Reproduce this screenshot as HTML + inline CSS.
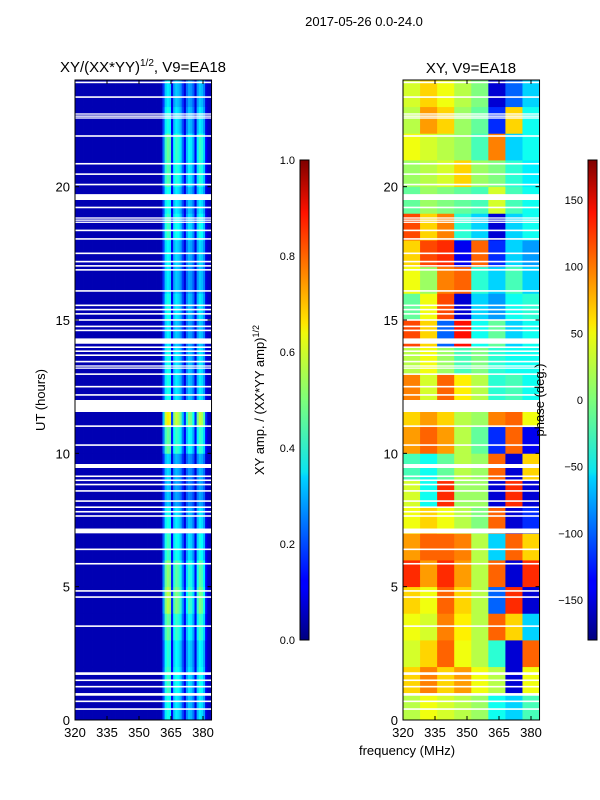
<!DOCTYPE html>
<html><head><meta charset="utf-8"><style>
html,body{margin:0;padding:0;background:#fff;width:600px;height:800px;overflow:hidden}
svg{display:block;font-family:"Liberation Sans",sans-serif}
</style></head><body>
<svg id="fig" width="600" height="800" xmlns="http://www.w3.org/2000/svg">
<defs>
<linearGradient id="jet" x1="0" y1="1" x2="0" y2="0">
<stop offset="0" stop-color="#00007f"/><stop offset="0.11" stop-color="#0000ff"/><stop offset="0.125" stop-color="#0000ff"/>
<stop offset="0.34" stop-color="#00d4ff"/><stop offset="0.35" stop-color="#0ae4f0"/><stop offset="0.5" stop-color="#7dff7a"/>
<stop offset="0.64" stop-color="#f0f90a"/><stop offset="0.66" stop-color="#ffe600"/><stop offset="0.89" stop-color="#ff1200"/>
<stop offset="1" stop-color="#7f0000"/></linearGradient>
</defs>
<text x="364" y="26" font-size="13" text-anchor="middle">2017-05-26 0.0-24.0</text>
<text x="143" y="72" font-size="15" text-anchor="middle">XY/(XX*YY)<tspan font-size="10" dy="-6">1/2</tspan><tspan dy="6">, V9=EA18</tspan></text>
<text x="471" y="73" font-size="15" text-anchor="middle">XY, V9=EA18</text>
<g id="ampPanel"></g>
<g id="phPanel"></g>
<g id="axes"></g>
<text transform="translate(45,400) rotate(-90)" font-size="13" text-anchor="middle">UT (hours)</text>
<text x="407" y="755" font-size="13" text-anchor="middle">frequency (MHz)</text>
<rect x="300" y="160" width="9" height="480" fill="url(#jet)" stroke="#000" stroke-width="1"/>
<rect x="588" y="160" width="9" height="480" fill="url(#jet)" stroke="#000" stroke-width="1"/>
<text transform="translate(264,400) rotate(-90)" font-size="13" text-anchor="middle">XY amp. / (XX*YY amp)<tspan font-size="9" dy="-5">1/2</tspan></text>
<text transform="translate(544,400) rotate(-90)" font-size="13" text-anchor="middle">phase (deg.)</text>
</svg>
<script>
// ---- data ----
const hours = [0,1,2,3,4,5,6,7,8,9,10,11,12,13,14,15,16,17,18,19,20,21,22,23];
// amplitude spectral profile, 1 MHz bins 320..383
const ampFreqProfile = [0.05,0.05,0.05,0.05,0.05,0.05,0.05,0.05,0.05,0.05,0.05,0.05,0.05,0.05,0.05,0.05,
 0.05,0.05,0.05,0.05,0.05,0.05,0.05,0.05,0.05,0.05,0.05,0.05,0.05,0.05,0.05,0.05,
 0.05,0.05,0.05,0.05,0.05,0.05,0.05,0.05,0.06,0.2,0.36,0.4,0.38,0.12,0.32,0.36,0.34,0.3,0.2,0.1,
 0.26,0.32,0.3,0.24,0.1,0.3,0.36,0.34,0.28,0.1,0.07,0.06];
// hourly amplitude gain
const ampHourGain = [1.0,1.1,1.05,1.2,1.4,1.3,1.1,1.0,0.8,0.85,1.2,1.6,1.0,1.0,0.9,1.0,0.9,0.95,1.1,1.0,1.15,1.2,1.0,0.9];
// phase grid (deg): rows hour 0..23, cols 8 MHz bins from 320
const phaseGrid = [
 [20,40,30,20,10,-40,-60,-20],[60,90,60,80,40,20,-150,40],[30,60,100,40,20,-30,-150,100],
 [40,30,90,50,20,100,60,-60],[60,40,100,60,20,-100,120,-150],[120,80,120,80,20,100,-150,120],
 [80,100,100,90,20,-60,100,60],[40,60,40,20,0,100,-150,-120],[30,-40,120,10,10,-150,120,-150],
 [-20,-40,-10,20,10,100,-150,60],[80,100,80,20,-10,-120,100,-140],[60,80,60,20,10,90,100,40],
 [90,30,100,50,20,-30,-20,-40],[20,40,10,-20,0,-30,-40,-40],[110,60,-100,130,-40,-10,-60,-40],
 [-10,40,110,-150,-60,-80,-40,-30],[40,10,90,100,-30,-60,-20,-60],[60,110,120,-140,100,-120,-60,-80],
 [110,60,90,-30,-60,-150,-60,-40],[-10,10,0,-10,-20,30,-20,-40],[10,20,30,60,10,0,-30,-50],
 [40,30,20,10,-20,90,-60,-40],[20,80,60,10,-10,-120,60,-40],[30,60,40,20,0,-150,-100,-60]];
// flagged times (hours) and widths
const flagStart = [0.38,0.67,0.91,1.22,1.46,1.69,3.49,4.58,4.81,5.83,6.37,7.0,7.62,7.78,7.95,8.18,8.56,8.8,8.96,9.11,9.45,10.28,10.99,11.55,12.16,12.47,12.94,13.17,13.25,13.41,13.65,13.8,13.95,14.11,14.58,14.73,14.97,15.2,15.36,15.52,16.06,16.85,17.0,17.16,17.47,18.01,18.33,18.64,18.72,18.8,19.19,19.5,20.05,20.44,20.83,21.87,22.55,22.62,22.7,23.33,23.88];
const flagWidth = [0.06,0.06,0.1,0.06,0.06,0.1,0.06,0.06,0.06,0.06,0.06,0.18,0.06,0.06,0.06,0.06,0.06,0.06,0.06,0.06,0.15,0.06,0.06,0.45,0.06,0.06,0.06,0.05,0.05,0.06,0.06,0.06,0.06,0.2,0.06,0.06,0.06,0.06,0.06,0.06,0.06,0.06,0.06,0.06,0.06,0.06,0.06,0.05,0.05,0.05,0.06,0.22,0.06,0.06,0.06,0.06,0.05,0.05,0.05,0.06,0.06];
const xTicks = [320,335,350,365,380];
const yTicks = [0,5,10,15,20];
const ampCbTicks = ['0.0','0.2','0.4','0.6','0.8','1.0'];
const phCbTicks = [-150,-100,-50,0,50,100,150];

// ---- helpers ----
const NS="http://www.w3.org/2000/svg";
function jet(v){v=Math.max(0,Math.min(1,v));
 const r=Math.max(0,Math.min(1,1.5-Math.abs(4*v-3))),g=Math.max(0,Math.min(1,1.5-Math.abs(4*v-2))),b=Math.max(0,Math.min(1,1.5-Math.abs(4*v-1)));
 return `rgb(${Math.round(r*255)},${Math.round(g*255)},${Math.round(b*255)})`;}
function mk(tag,attrs,parent){const e=document.createElementNS(NS,tag);for(const k in attrs)e.setAttribute(k,attrs[k]);parent.appendChild(e);return e;}
const Y0=720,Y1=80;
const yScale=h=>Y0-(h/24)*(Y0-Y1);
const panels=[{x0:75,g:document.getElementById('ampPanel')},{x0:403,g:document.getElementById('phPanel')}];
const xScaleFor=x0=>f=>x0+(f-320)*(128/60);

// amplitude
{const xs=xScaleFor(75),g=panels[0].g;
 hours.forEach((h,i)=>{ampFreqProfile.forEach((a,j)=>{
  const r=mk('rect',{x:xs(320+j),y:yScale(h+1),width:xs(321+j)-xs(320+j)+0.4,height:yScale(h)-yScale(h+1)+0.4,fill:jet(a<0.1?a:a*ampHourGain[i])},g);
  
  
 });});}
// phase
{const xs=xScaleFor(403),g=panels[1].g;
 phaseGrid.forEach((row,i)=>{row.forEach((p,j)=>{
  const r=mk('rect',{x:xs(320+8*j),y:yScale(hours[i]+1),width:xs(328+8*j)-xs(320+8*j)+0.4,height:yScale(hours[i])-yScale(hours[i]+1)+0.4,fill:jet((p+180)/360)},g);
  
  
 });});}
// flags + axes
const ax=document.getElementById('axes');
panels.forEach((P,pi)=>{
 const xs=xScaleFor(P.x0),xe=xs(384);
 flagStart.forEach((s,k)=>{
  const r=mk('rect',{x:P.x0,y:yScale(s+flagWidth[k]),width:xe-P.x0,height:Math.max(1.2,yScale(s)-yScale(s+flagWidth[k])),fill:'#fff'},P.g);
  
  
 });
 const fr=mk('rect',{x:P.x0,y:Y1,width:xe-P.x0,height:Y0-Y1,fill:'none',stroke:'#000','stroke-width':1},ax);
 
 
 xTicks.forEach(t=>{const x=xs(t);
  mk('line',{x1:x,x2:x,y1:Y0,y2:Y0-4,stroke:'#000'},ax);mk('line',{x1:x,x2:x,y1:Y1,y2:Y1+4,stroke:'#000'},ax);
  const tx=mk('text',{x:x,y:Y0+17,'font-size':13,'text-anchor':'middle'},ax);tx.textContent=t;
  
  });
 yTicks.forEach(t=>{const y=yScale(t);
  mk('line',{x1:P.x0,x2:P.x0+4,y1:y,y2:y,stroke:'#000'},ax);mk('line',{x1:xe,x2:xe-4,y1:y,y2:y,stroke:'#000'},ax);
  const tx=mk('text',{x:P.x0-5,y:y+5,'font-size':13,'text-anchor':'end'},ax);tx.textContent=t;
  
  });
});
// colorbar ticks
ampCbTicks.forEach((t,i)=>{const y=640-i*96;
 mk('line',{x1:300,x2:309,y1:y,y2:y,stroke:'#000'},ax);
 const tx=mk('text',{x:295,y:y+4,'font-size':11,'text-anchor':'end'},ax);tx.textContent=t;
 
 });
phCbTicks.forEach(t=>{const y=400-t*(480/360);
 mk('line',{x1:588,x2:597,y1:y,y2:y,stroke:'#000'},ax);
 const tx=mk('text',{x:583,y:y+4,'font-size':11,'text-anchor':'end'},ax);tx.textContent=String(t).replace('-','\u2212');
 
 });
</script>
</body></html>
